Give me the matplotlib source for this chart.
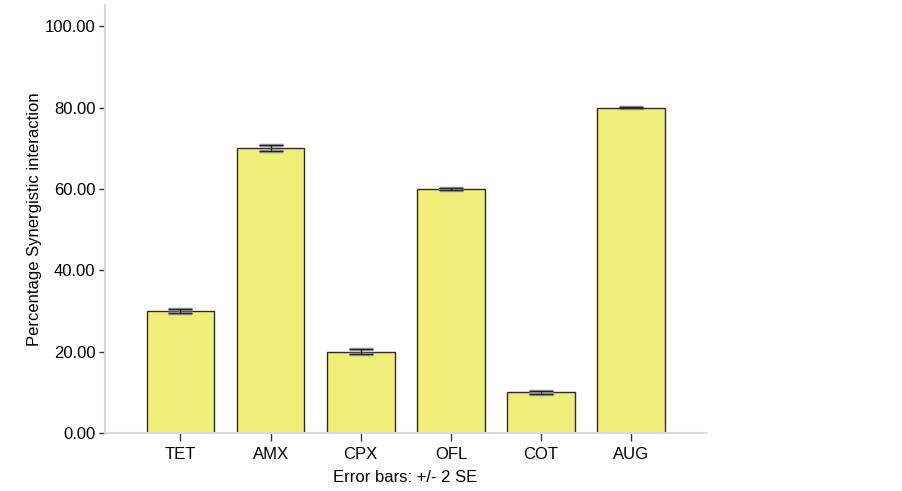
import matplotlib
matplotlib.use("Agg")
import matplotlib.pyplot as plt
import numpy as np

categories = ["TET", "AMX", "CPX", "OFL", "COT", "AUG"]
values = [30.0, 70.0, 20.0, 60.0, 10.0, 80.0]
errors = [0.55, 0.7, 0.65, 0.25, 0.3, 0.1]
yticks = [0, 20, 40, 60, 80, 100]

plt.rcParams['font.family'] = ['Liberation Sans', 'DejaVu Sans']

fig = plt.figure(figsize=(9.03, 4.91), dpi=100)
ax = fig.add_axes([0.1163, 0.1181, 0.7818 - 0.1163, 0.9898 - 0.1181])

x = np.arange(len(categories))
ax.bar(x, values, width=0.75, color='#f0ed78', edgecolor='#2b2b2b', linewidth=1.0, zorder=2)
ax.errorbar(x, values, yerr=errors, fmt='none', ecolor='#9a9a9a', elinewidth=1.0,
            capsize=8.5, capthick=2.5, zorder=3)
ax.errorbar(x, values, yerr=errors, fmt='none', ecolor='#222222', elinewidth=1.0,
            capsize=8.5, capthick=0.9, zorder=4)

ax.set_xlim(-0.837, 5.83)
ax.set_ylim(0, 105.2)
ax.set_xticks(x)
ax.set_xticklabels(categories, fontsize=12)
ax.set_yticks(yticks)
ax.set_yticklabels([f"{v:.2f}" for v in yticks], fontsize=12)

for s in ['top', 'right']:
    ax.spines[s].set_visible(False)
for s in ['left', 'bottom']:
    ax.spines[s].set_color('#d9d9d9')
    ax.spines[s].set_linewidth(1.5)

ax.tick_params(axis='x', length=6, width=1, color='#333333', pad=4)
ax.tick_params(axis='y', length=4, width=1, color='#333333', pad=3)

ax.set_xlabel("Error bars: +/- 2 SE", fontsize=12, labelpad=6)
ax.set_ylabel("Percentage Synergistic interaction", fontsize=12, labelpad=2)

fig.savefig("out.png", dpi=100)
